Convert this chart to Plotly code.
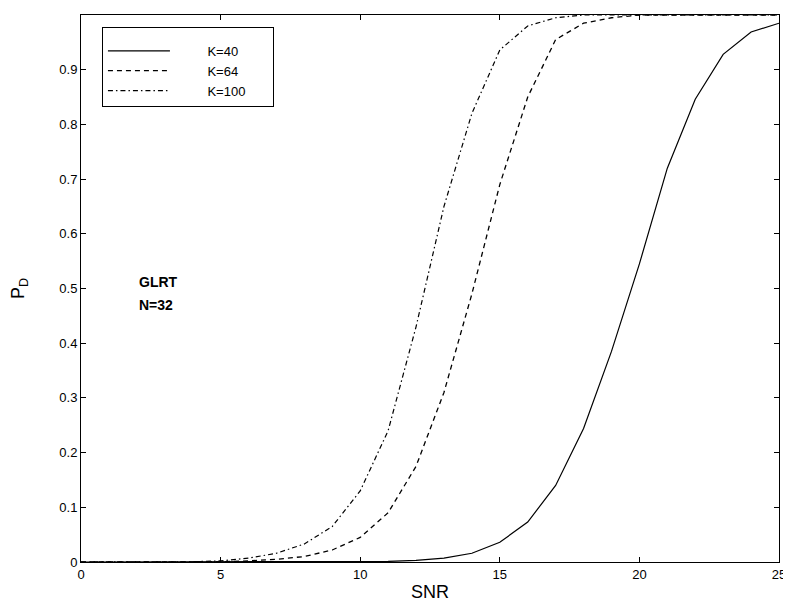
import plotly.graph_objects as go

snr = list(range(0, 26))

pd_k40 = [0, 0, 0, 0, 0, 0, 0, 0, 0, 0, 0.0003, 0.001, 0.003, 0.007, 0.016, 0.036,
          0.073, 0.14, 0.244, 0.385, 0.545, 0.72, 0.846, 0.928, 0.969, 0.985]
pd_k64 = [0, 0, 0, 0, 0, 0.0005, 0.002, 0.005, 0.01, 0.022, 0.045, 0.09, 0.175, 0.31,
          0.49, 0.69, 0.85, 0.955, 0.985, 0.995, 1.0, 1.0, 1.0, 1.0, 1.0, 1.0]
pd_k100 = [0, 0, 0, 0, 0.0005, 0.002, 0.007, 0.016, 0.033, 0.065, 0.13, 0.24, 0.43, 0.65,
           0.82, 0.936, 0.98, 0.995, 1.0, 1.0, 1.0, 1.0, 1.0, 1.0, 1.0, 1.0]

names = ["K=40", "K=64", "K=100"]
x_ticks = [0, 5, 10, 15, 20, 25]
y_ticks = [0, 0.1, 0.2, 0.3, 0.4, 0.5, 0.6, 0.7, 0.8, 0.9, 1]
y_tick_labels = ["0", "0.1", "0.2", "0.3", "0.4", "0.5", "0.6", "0.7", "0.8", "0.9", "1"]

FONT = "Liberation Sans, Arial, Helvetica, sans-serif"
NB = "\u00a0"


def legend_label(name):
    # invisible padding to mimic the wide MATLAB legend layout
    return NB * 9 + name + NB * 6


fig = go.Figure()
fig.add_trace(go.Scatter(x=snr, y=pd_k40, mode="lines", name=legend_label(names[0]),
                         line=dict(color="black", width=1.2, dash="solid")))
fig.add_trace(go.Scatter(x=snr, y=pd_k64, mode="lines", name=legend_label(names[1]),
                         line=dict(color="black", width=1.3, dash="5px,4px")))
fig.add_trace(go.Scatter(x=snr, y=pd_k100, mode="lines", name=legend_label(names[2]),
                         line=dict(color="black", width=1.2, dash="5px,3px,1.5px,3px")))

fig.add_annotation(x=2.0, y=0.511, xref="x", yref="y", xanchor="left", yanchor="middle",
                   text="<b>GLRT</b>", showarrow=False,
                   font=dict(family=FONT, size=14, color="black"))
fig.add_annotation(x=2.0, y=0.469, xref="x", yref="y", xanchor="left", yanchor="middle",
                   text="<b>N=32</b>", showarrow=False,
                   font=dict(family=FONT, size=14, color="black"))

axis_common = dict(showline=True, linecolor="black", linewidth=1, mirror="allticks",
                   ticks="inside", ticklen=5, tickcolor="black", tickwidth=1,
                   showgrid=False, zeroline=False, automargin=False,
                   tickfont=dict(family=FONT, size=13, color="black"))

# The page body has an 8px default margin, so the figure is sized to fit the window.
fig.update_layout(
    width=783, height=603,
    paper_bgcolor="white", plot_bgcolor="white",
    margin=dict(l=73, r=12, t=7, b=49),
    font=dict(family=FONT, size=12, color="black"),
    xaxis=dict(range=[0, 25], tickvals=x_ticks,
               title=dict(text="SNR", font=dict(family=FONT, size=18), standoff=4),
               **axis_common),
    yaxis=dict(range=[0, 1], tickvals=y_ticks, ticktext=y_tick_labels,
               title=dict(text="P<sub>D</sub>", font=dict(family=FONT, size=18), standoff=30),
               **axis_common),
    legend=dict(x=0.03, y=0.978, xanchor="left", yanchor="top",
                bgcolor="white", bordercolor="black", borderwidth=1,
                font=dict(family=FONT, size=13), itemwidth=62,
                title=dict(text=NB, font=dict(size=6)),
                tracegroupgap=0),
    showlegend=True,
)

fig.write_html("out.html")
